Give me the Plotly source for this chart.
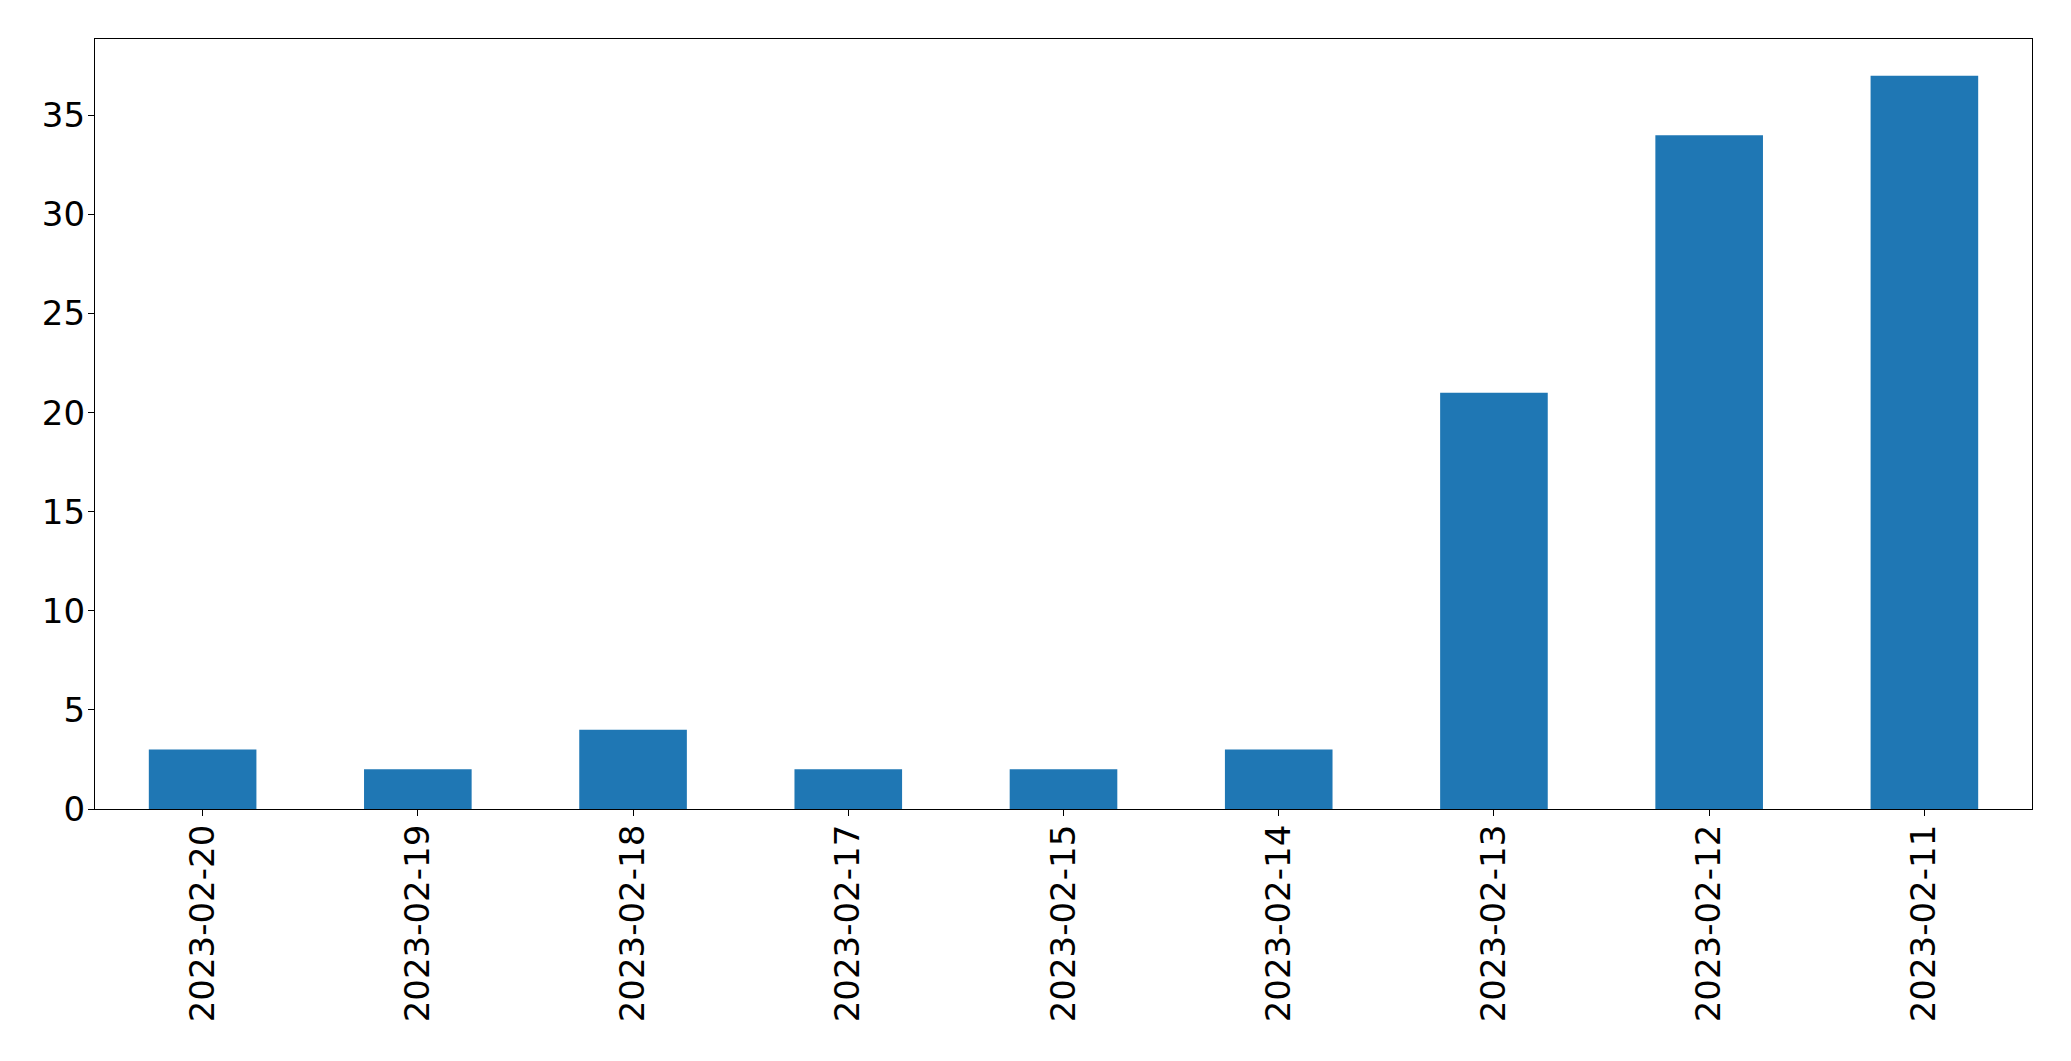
import plotly.graph_objects as go

categories = ["2023-02-20", "2023-02-19", "2023-02-18", "2023-02-17", "2023-02-15",
              "2023-02-14", "2023-02-13", "2023-02-12", "2023-02-11"]
values = [3, 2, 4, 2, 2, 3, 21, 34, 37]
y_ticks = [0, 5, 10, 15, 20, 25, 30, 35]

fig = go.Figure(go.Bar(x=categories, y=values, marker_color="#1f77b4",
                       marker_line_width=0, width=0.5))

fig.update_layout(
    width=2063, height=1053,
    margin=dict(l=87, r=39, t=31, b=252, pad=0),
    paper_bgcolor="white", plot_bgcolor="white",
    font=dict(family="DejaVu Sans", size=34, color="black"),
    showlegend=False,
    bargap=0.5,
)
fig.update_xaxes(type="category", range=[-0.5, 8.5], tickangle=-90,
                 showline=True, linecolor="black", linewidth=1.3, mirror=True,
                 ticks="outside", ticklen=6, tickwidth=1.3, tickcolor="black",
                 ticklabelstandoff=-5,
                 showgrid=False, zeroline=False, automargin=False)
fig.update_yaxes(range=[0, 38.85], tickvals=y_ticks,
                 showline=True, linecolor="black", linewidth=1.3, mirror=True,
                 ticks="outside", ticklen=6, tickwidth=1.3, tickcolor="black",
                 ticklabelstandoff=-4,
                 showgrid=False, zeroline=False, automargin=False)

fig.write_html("out.html")
